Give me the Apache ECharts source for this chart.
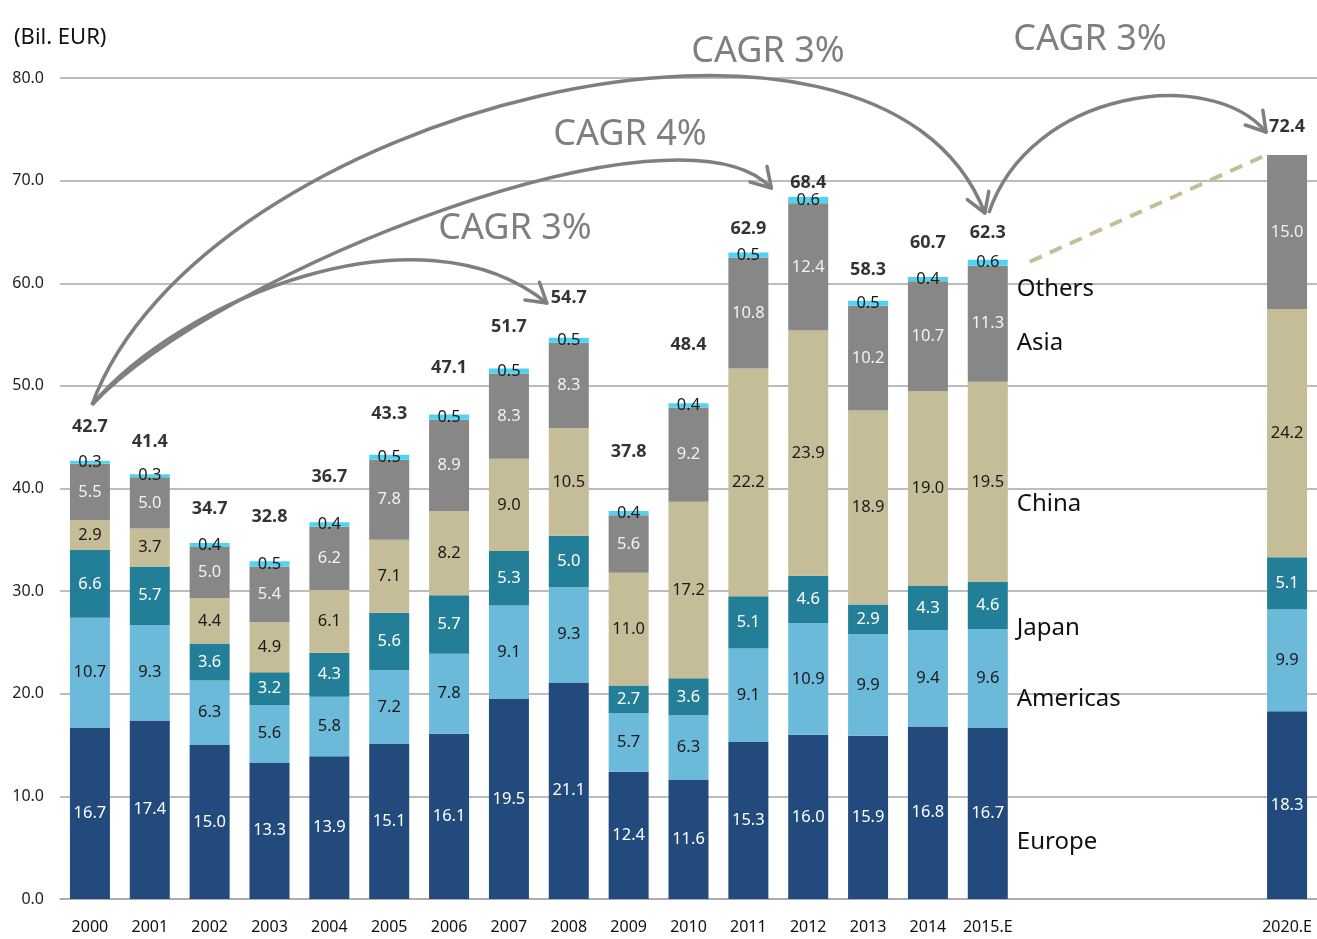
<!DOCTYPE html>
<html>
<head>
<meta charset="utf-8">
<script src="https://cdn.jsdelivr.net/npm/echarts@6/dist/echarts.min.js"></script>
<style>
html,body{margin:0;padding:0;background:#fff;}
#main{width:1317px;height:939px;}
</style>
</head>
<body>
<div id="main"></div>
<script>
// ---- data ----
var categories = ['2000','2001','2002','2003','2004','2005','2006','2007','2008','2009','2010','2011','2012','2013','2014','2015.E','','','','','2020.E'];
var europe   = [16.7,17.4,15.0,13.3,13.9,15.1,16.1,19.5,21.1,12.4,11.6,15.3,16.0,15.9,16.8,16.7,null,null,null,null,18.3];
var americas = [10.7, 9.3, 6.3, 5.6, 5.8, 7.2, 7.8, 9.1, 9.3, 5.7, 6.3, 9.1,10.9, 9.9, 9.4, 9.6,null,null,null,null, 9.9];
var japan    = [ 6.6, 5.7, 3.6, 3.2, 4.3, 5.6, 5.7, 5.3, 5.0, 2.7, 3.6, 5.1, 4.6, 2.9, 4.3, 4.6,null,null,null,null, 5.1];
var china    = [ 2.9, 3.7, 4.4, 4.9, 6.1, 7.1, 8.2, 9.0,10.5,11.0,17.2,22.2,23.9,18.9,19.0,19.5,null,null,null,null,24.2];
var asia     = [ 5.5, 5.0, 5.0, 5.4, 6.2, 7.8, 8.9, 8.3, 8.3, 5.6, 9.2,10.8,12.4,10.2,10.7,11.3,null,null,null,null,15.0];
var others   = [ 0.3, 0.3, 0.4, 0.5, 0.4, 0.5, 0.5, 0.5, 0.5, 0.4, 0.4, 0.5, 0.6, 0.5, 0.4, 0.6,null,null,null,null,null];
var totals   = [42.7,41.4,34.7,32.8,36.7,43.3,47.1,51.7,54.7,37.8,48.4,62.9,68.4,58.3,60.7,62.3,null,null,null,null,72.4];
var seriesNames = ['Europe','Americas','Japan','China','Asia','Others'];
var cagrLabels = ['CAGR 3%','CAGR 4%','CAGR 3%','CAGR 3%'];
var yTicks = [0,10,20,30,40,50,60,70,80];

// ---- styles / positions (not data) ----
var totalLabelOffsets = [34,32,34,46,45,41,48,42,40,59,57,25,14,31,33,27,0,0,0,0,29];
var legendLabelY = [5.5,19.5,26.4,38.5,54.2,59.4]; // Europe..Others, in axis units
var colors = ['#224a7d','#6cbad9','#237f98','#c4bd97','#878787','#4fd3f1'];
var labelColors = ['#ffffff','#1a1a1a','#ffffff','#1a1a1a','#f2f2f2','#1a1a1a'];

var chart = echarts.init(document.getElementById('main'), null, {renderer:'canvas'});
var FONT = 'Noto Sans';
var dataSets = [europe, americas, japan, china, asia, others];

var series = dataSets.map(function(d, i){
  return {
    name: seriesNames[i], type:'bar', stack:'total', barWidth:40,
    data: d,
    itemStyle:{color:colors[i]},
    label:{show:true, position:'inside', color:labelColors[i], fontFamily:FONT, fontSize:16.5,
      formatter:function(p){return p.value==null?'':Number(p.value).toFixed(1);}},
    emphasis:{disabled:true}, animation:false
  };
});
series.push({
  type:'scatter', data: totals.map(function(v,i){
    return {value:v, label:{offset:[0,-totalLabelOffsets[i]]}};
  }),
  symbolSize:0, silent:true, animation:false, z:5,
  label:{show:true, position:'inside', color:'#000', fontFamily:FONT, fontWeight:'bold', fontSize:18,
    formatter:function(p){return p.value==null?'':Number(p.value).toFixed(1);}}
});

chart.setOption({
  animation:false,
  textStyle:{fontFamily:FONT},
  grid:{left:60, right:-2, top:78, bottom:40, containLabel:false},
  xAxis:{type:'category', data:categories,
    axisLine:{lineStyle:{color:'#a6a6a6', width:1.5}}, axisTick:{show:false},
    axisLabel:{color:'#111', fontSize:16, margin:20, fontFamily:FONT, interval:0}},
  yAxis:{type:'value', min:0, max:80, interval:10,
    axisLine:{show:false}, axisTick:{show:false},
    splitLine:{lineStyle:{color:'#a6a6a6', width:1.5}},
    axisLabel:{color:'#222', fontSize:16, margin:16, fontFamily:FONT,
      formatter:function(v){return yTicks.indexOf(v)>=0 ? v.toFixed(1) : '';}}},
  series: series
});

// ---- annotations ----
function px(i, v){ return chart.convertToPixel({gridIndex:0}, [i, v]); }
var gray = '#7f7f7f';
var g = [];
g.push({type:'text', left:14, top:27, style:{text:'(Bil. EUR)', font:'22px "Noto Sans"', fill:'#111'}});

function arrow(p0, c1, c2, p3){
  g.push({type:'bezierCurve', shape:{x1:p0[0],y1:p0[1],cpx1:c1[0],cpy1:c1[1],cpx2:c2[0],cpy2:c2[1],x2:p3[0],y2:p3[1]},
    style:{stroke:gray, lineWidth:3.5, fill:null}, z:10});
  var dx = p3[0]-c2[0], dy = p3[1]-c2[1];
  var a = Math.atan2(dy, dx), L = 22, s = 0.55;
  [a+Math.PI-s, a+Math.PI+s].forEach(function(b){
    g.push({type:'line', shape:{x1:p3[0],y1:p3[1],x2:p3[0]+L*Math.cos(b),y2:p3[1]+L*Math.sin(b)},
      style:{stroke:gray, lineWidth:3.5, lineCap:'round'}, z:10});
  });
}
var s0 = px(0, 42.7);
var start = [s0[0]+2, s0[1]-56];
arrow(start, [180,300], [420,200], [px(8,0)[0]-22, 303]);
arrow(start, [220,270], [680,90], [px(11,0)[0]+23, 188]);
arrow(start, [200,110], [880,-60], [px(15,0)[0]-3, 213]);
arrow([px(15,0)[0]+1, 213], [1030,90], [1210,65], [px(20,0)[0]-21, 132]);

var cagrPos = [[515,229],[630,135],[768,52],[1090,40]];
cagrLabels.forEach(function(t,i){
  g.push({type:'text', x:cagrPos[i][0], y:cagrPos[i][1], style:{text:t, font:'36px "Noto Sans"', fill:gray, align:'center', verticalAlign:'middle'}, z:11});
});

// dashed projection line
var d0 = px(15, 62.1), d1 = px(20, 72.5);
g.push({type:'line', shape:{x1:d0[0]+42, y1:d0[1], x2:d1[0]-21, y2:d1[1]},
  style:{stroke:'#c4bd97', lineWidth:4, lineDash:[13,9]}, z:9});

// series name labels at right of 2015.E
seriesNames.forEach(function(n,i){
  var p = px(15, legendLabelY[i]);
  g.push({type:'text', x:p[0]+29, y:p[1], style:{text:n, font:'24px "Noto Sans"', fill:'#111', verticalAlign:'middle'}, z:11});
});

chart.setOption({graphic:{elements:g}});
</script>
</body>
</html>
